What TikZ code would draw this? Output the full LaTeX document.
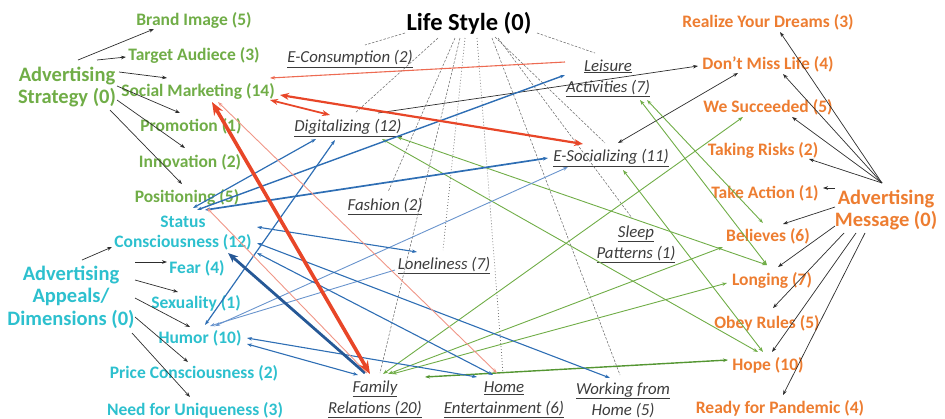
\documentclass[tikz,border=0pt]{standalone}
\usepackage{fontspec}
\setmainfont{Carlito}
\usetikzlibrary{arrows.meta,calc}
\definecolor{cgreen}{RGB}{112,173,71}
\definecolor{ccyan}{RGB}{45,192,206}
\definecolor{corange}{RGB}{237,125,49}
\definecolor{ctext}{RGB}{60,60,60}
\definecolor{cred}{RGB}{232,70,40}
\definecolor{cpink}{RGB}{240,150,135}
\definecolor{cblue}{RGB}{46,110,180}
\definecolor{cdblue}{RGB}{38,88,150}
\definecolor{clblue}{RGB}{105,148,205}
\definecolor{cgline}{RGB}{112,173,71}
\definecolor{cdgline}{RGB}{84,150,50}
\definecolor{cblk}{RGB}{45,45,45}
\definecolor{cls}{RGB}{110,110,110}
\begin{document}
\begin{tikzpicture}[x=1pt,y=-1pt,
  >={Stealth[length=5pt,width=3.6pt]},
  lab/.style={inner sep=0pt, align=center, font=\bfseries\fontsize{17.5}{20.5}\selectfont},
  grn/.style={lab, text=cgreen},
  cyn/.style={lab, text=ccyan},
  org/.style={lab, text=corange},
  hdr/.style={inner sep=0pt, align=center, font=\bfseries\fontsize{20.5}{22.5}\selectfont},
  ital/.style={inner sep=0pt, align=center, text=ctext, font=\itshape\fontsize{16.8}{21}\selectfont},
  blk/.style={draw=cblk, line width=0.7pt},
  lsdash/.style={draw=cls, line width=0.55pt, dash pattern=on 2.5pt off 1.5pt},
  lsdot/.style={draw=cls, line width=0.75pt, dash pattern=on 0.8pt off 2.2pt},
  redln/.style={draw=cred, line width=#1},
  pinkln/.style={draw=cpink, line width=0.9pt},
  blueln/.style={draw=cblue, line width=#1},
  lblueln/.style={draw=clblue, line width=0.9pt},
  grnln/.style={draw=cgline, line width=0.9pt},
]
\path[use as bounding box] (0,0) rectangle (945,418);

% ---------- Advertising Strategy (green)
\node[hdr, text=cgreen] (as) at (67,87) {Advertising\\Strategy (0)};
\node[grn] (bi) at (194,20) {Brand Image (5)};
\node[grn] (ta) at (194,55) {Target Audiece (3)};
\node[grn] (sm) at (198,91) {Social Marketing (14)};
\node[grn] (pr) at (191,126) {Promotion (1)};
\node[grn] (in) at (190,162) {Innovation (2)};
\node[grn] (po) at (187,197) {Positioning (5)};

% ---------- Advertising Appeals (cyan)
\node[hdr, text=ccyan] (aa) at (71,297) {Advertising\\Appeals/\\Dimensions (0)};
\node[cyn] (sc) at (183,233) {Status\\Consciousness (12)};
\node[cyn] (fe) at (197,268) {Fear (4)};
\node[cyn] (se) at (196,303) {Sexuality (1)};
\node[cyn] (hu) at (200,338) {Humor (10)};
\node[cyn] (pc) at (194,373) {Price Consciousness (2)};
\node[cyn] (nu) at (195,410) {Need for Uniqueness (3)};

% ---------- Life Style (black)
\node[inner sep=0pt, font=\bfseries\fontsize{24.5}{28}\selectfont] (ls) at (469,23) {Life Style (0)};
\node[ital] (ec) at (350,59) {\underline{E-Consumption (2)}};
\node[ital] (la) at (608,78) {\underline{Leisure}\\\underline{Activities (7)}};
\node[ital] (di) at (348,128) {\underline{Digitalizing (12)}};
\node[ital] (es) at (611,158) {\underline{E-Socializing (11)}};
\node[ital] (fa) at (385,207) {\underline{Fashion (2)}};
\node[ital] (sp) at (636,244) {\underline{Sleep}\\\underline{Patterns (1)}};
\node[ital] (lo) at (444,266) {\underline{Loneliness (7)}};
\node[ital] (fr) at (375,399) {\underline{Family}\\\underline{Relations (20)}};
\node[ital] (he) at (504,400) {\underline{Home}\\\underline{Entertainment (6)}};
\node[ital] (wh) at (623,401) {\underline{Working from}\\\underline{Home (5)}};

% ---------- Advertising Message (orange)
\node[hdr, text=corange] (am) at (886,210) {Advertising\\Message (0)};
\node[org] (rd) at (768,22) {Realize Your Dreams (3)};
\node[org] (dm) at (768,64) {Don't Miss Life (4)};
\node[org] (ws) at (768,107) {We Succeeded (5)};
\node[org] (tr) at (763,150) {Taking Risks (2)};
\node[org] (tac) at (765,193) {Take Action (1)};
\node[org] (be) at (768,236) {Believes (6)};
\node[org] (lg) at (772,280) {Longing (7)};
\node[org] (or) at (767,323) {Obey Rules (5)};
\node[org] (ho) at (768,365) {Hope (10)};
\node[org] (rp) at (780,408) {Ready for Pandemic (4)};

% ---------- fans
\draw[blk,->] ($(as)+(11,-27)$) -- ($(bi)+(-40,9)$);
\draw[blk,->] ($(as)+(30,-27)$) -- ($(ta)+(-68,2)$);
\draw[blk,->] ($(as)+(52,-15)$) -- ($(sm)+(-31,-13)$);
\draw[blk,->] ($(as)+(50,-1)$) -- ($(pr)+(-11,-13)$);
\draw[blk,->] ($(as)+(50,13)$) -- ($(in)+(-5,-14)$);
\draw[blk,->] ($(as)+(43,23)$) -- ($(po)+(-5,-13)$);

\draw[blk,->] ($(aa)+(11,-37)$) -- ($(sc)+(-71,14)$);
\draw[blk,->] ($(aa)+(64,-35)$) -- ($(fe)+(-30,-6)$);
\draw[blk,->] ($(aa)+(64,-17)$) -- ($(se)+(-18,-11)$);
\draw[blk,->] ($(aa)+(64,1)$) -- ($(hu)+(-10,-11)$);
\draw[blk,->] ($(aa)+(64,20)$) -- ($(pc)+(-6,-11)$);
\draw[blk,->] ($(aa)+(61,36)$) -- ($(nu)+(-5,-13)$);

\draw[blk,->] ($(am)+(-4,-27)$) -- ($(rd)+(12,10)$);
\draw[blk,->] ($(am)+(-4,-27)$) -- ($(dm)+(15,10)$);
\draw[blk,->] ($(am)+(-4,-27)$) -- ($(ws)+(24,10)$);
\draw[blk,->] ($(am)+(-4,-27)$) -- ($(tr)+(46,9)$);
\draw[blk,->] ($(am)+(-51,-22)$) -- ($(tac)+(58,-5)$);
\draw[blk,->] ($(am)+(-51,-3)$) -- ($(be)+(15,-12)$);
\draw[blk,->] ($(am)+(-51,16)$) -- ($(lg)+(6,-13)$);
\draw[blk,->] ($(am)+(-42,23)$) -- ($(or)+(6,-15)$);
\draw[blk,->] ($(am)+(-30,23)$) -- ($(ho)+(4,-13)$);
\draw[blk,->] ($(am)+(-21,23)$) -- ($(rp)+(3,-13)$);

% ---------- Life Style links
\draw[lsdash] ($(ls)+(-64,10)$) -- ($(ec)+(15,-14)$);
\draw[lsdash] ($(ls)+(-31,15)$) -- ($(di)+(7,-15)$);
\draw[lsdash] ($(ls)+(-14,15)$) -- ($(fa)+(3,-15)$);
\draw[lsdash] ($(ls)+(-9,15)$) -- ($(fr)+(5,-26)$);
\draw[lsdot] ($(ls)+(-4,15)$) -- ($(lo)+(-1,-16)$);
\draw[lsdot] ($(ls)+(8,15)$) -- ($(he)+(-1,-27)$);
\draw[lsdash] ($(ls)+(23,15)$) -- ($(wh)+(-3,-26)$);
\draw[lsdash] ($(ls)+(29,15)$) -- ($(sp)+(-4,-26)$);
\draw[lsdash] ($(ls)+(26,14)$) -- ($(es)+(-6,-15)$);
\draw[lsdash] ($(ls)+(68,10)$) -- ($(la)+(-13,-25)$);

% ---------- black cross links
\draw[blk,->] ($(di)+(30,-15)$) -- ($(dm)+(-70,2)$);
\draw[blk,<->] ($(es)+(7,-15)$) -- ($(dm)+(-30,9)$);

% ---------- green links
\draw[grnln,<->] ($(fr)+(8,-25)$) -- ($(ws)+(-25,10)$);
\draw[grnln,<->] ($(fr)+(13,-25)$) -- ($(be)+(-45,11)$);
\draw[grnln,<->] ($(fr)+(17,-25)$) -- ($(lg)+(-45,3)$);
\draw[draw=cdgline, line width=1.4pt, <->] ($(fr)+(50,-22)$) -- ($(ho)+(-40,-5)$);
\draw[grnln,<->] ($(di)+(34,11)$) -- ($(ho)+(-10,-13)$);
\draw[grnln,<->] ($(di)+(49,9)$) -- ($(lg)+(-5,-15)$);
\draw[grnln,<->] ($(es)+(12,12)$) -- ($(ho)+(-5,-13)$);
\draw[grnln,<->] ($(la)+(39,22)$) -- ($(be)+(-5,-13)$);
\draw[grnln,<->] ($(la)+(32,22)$) -- ($(lg)+(-5,-15)$);

% ---------- blue links
\draw[blueln=1.2pt,<->] ($(po)+(6,11)$) -- ($(di)+(-32,11)$);
\draw[blueln=1.7pt,<->] ($(po)+(18,13)$) -- ($(es)+(-63,0)$);
\draw[blueln=1.4pt,<->] ($(po)+(10,13)$) -- ($(la)+(-43,-3)$);
\draw[blueln=1.2pt,<->] ($(hu)+(5,-13)$) -- ($(di)+(-13,12)$);
\draw[lblueln,<->] ($(hu)+(15,-12)$) -- ($(es)+(-43,9)$);
\draw[lblueln,->] ($(lo)+(-49,4)$) -- ($(hu)+(10,-12)$);
\draw[blueln=1.1pt,<->] ($(sc)+(74,-6)$) -- ($(lo)+(-27,-14)$);
\draw[blueln=1.1pt,<->] ($(sc)+(74,10)$) -- ($(wh)+(-13,-23)$);
\draw[blueln=1.1pt,<->] ($(sc)+(74,20)$) -- ($(he)+(-11,-25)$);
\draw[blueln=1.1pt,<->] ($(hu)+(47,6)$) -- ($(fr)+(-17,-24)$);
\draw[blueln=1.1pt,<->] ($(hu)+(47,0)$) -- ($(he)+(-27,-23)$);
\draw[draw=cdblue, line width=2.8pt, -{Stealth[length=10pt,width=8pt]}] ($(fr)+(-10,-26)$) -- ($(sc)+(45,20)$);

% ---------- red links
\draw[draw=cred!80, line width=1.1pt, ->] ($(la)+(-43,-16)$) -- ($(sm)+(72,-13)$);
\draw[pinkln,<->] ($(sm)+(20,11)$) -- ($(he)+(-7,-27)$);
\draw[pinkln,->] ($(fr)+(-8,-26)$) -- ($(po)+(20,11)$);
\draw[redln=1.8pt,{Stealth[length=8pt,width=6pt]}-{Stealth[length=8pt,width=6pt]}] ($(sm)+(72,9)$) -- ($(di)+(-18,-13)$);
\draw[redln=2.2pt,{Stealth[length=9pt,width=7pt]}-{Stealth[length=9pt,width=7pt]}] ($(sm)+(82,4)$) -- ($(es)+(-28,-14)$);
\draw[redln=3.6pt,{Stealth[length=13pt,width=10pt]}-{Stealth[length=13pt,width=10pt]}] ($(sm)+(14,11)$) -- ($(fr)+(-5,-25)$);
\end{tikzpicture}
\end{document}
